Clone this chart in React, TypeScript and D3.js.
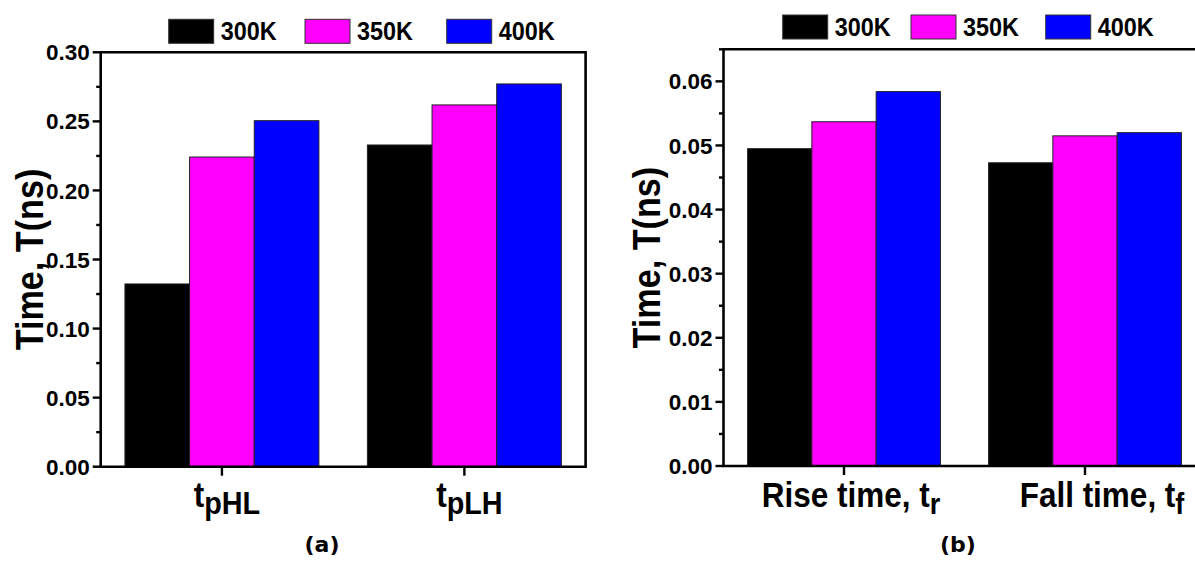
import React from "react";
import * as d3 from "d3";

// ---------- data ----------
const seriesNames = ["300K", "350K", "400K"];
const seriesColors = ["#000000", "#FF00FF", "#0000FF"];

const categoriesA = ["tpHL", "tpLH"];
const valuesA300 = [0.1323, 0.2329];
const valuesA350 = [0.2242, 0.2619];
const valuesA400 = [0.2505, 0.2771];
const yTicksA = [0, 0.05, 0.1, 0.15, 0.2, 0.25, 0.3];
const yMinorA = [0.025, 0.075, 0.125, 0.175, 0.225, 0.275];

const categoriesB = ["Rise", "Fall"];
const valuesB300 = [0.0495, 0.0473];
const valuesB350 = [0.0537, 0.0515];
const valuesB400 = [0.0584, 0.052];
const yTicksB = [0, 0.01, 0.02, 0.03, 0.04, 0.05, 0.06];
const yMinorB = [0.005, 0.015, 0.025, 0.035, 0.045, 0.055, 0.065];

const FONT = "'Liberation Sans', Arial, sans-serif";

type PanelProps = {
  left: number;
  right: number;
  top: number;
  bottom: number;
  yMax: number;
  categories: string[];
  values: number[][];
  yTicks: number[];
  yMinor: number[];
  legendX: number[];
  legendY: number;
  labels: React.ReactNode[];
  labelShift: number[];
  titleX: number;
  caption: string;
  captionX: number;
};

function NText(props: {
  x: number;
  y: number;
  anchor?: string;
  size: number;
  rotate?: boolean;
  children: React.ReactNode;
}) {
  const { x, y, anchor = "middle", size, rotate, children } = props;
  return (
    <g transform={`translate(${x},${y})${rotate ? " rotate(-90)" : ""} scale(0.9,1)`}>
      <text
        textAnchor={anchor}
        fontFamily={FONT}
        fontWeight="bold"
        fontSize={size}
        fill="#000"
      >
        {children}
      </text>
    </g>
  );
}

function Panel(p: PanelProps) {
  const x0 = d3
    .scaleBand<string>()
    .domain(p.categories)
    .range([p.left, p.right])
    .paddingInner(0.2)
    .paddingOuter(0.1);
  const x1 = d3
    .scaleBand<string>()
    .domain(seriesNames)
    .range([0, x0.bandwidth()])
    .padding(0);
  const y = d3.scaleLinear().domain([0, p.yMax]).range([p.bottom, p.top]);
  const center = (c: string) => (x0(c) as number) + x0.bandwidth() / 2;
  const axisW = 2.6;

  return (
    <g>
      {/* bars */}
      {p.categories.map((c, ci) =>
        seriesNames.map((s, si) => {
          const v = p.values[si][ci];
          return (
            <rect
              key={c + s}
              x={(x0(c) as number) + (x1(s) as number)}
              y={y(v)}
              width={x1.bandwidth()}
              height={y(0) - y(v)}
              fill={seriesColors[si]}
              stroke="#222"
              strokeWidth={1}
            />
          );
        })
      )}
      {/* frame */}
      <path
        d={`M${p.left},${p.bottom} L${p.left},${p.top} L${p.right},${p.top} L${p.right},${p.bottom} Z`}
        fill="none"
        stroke="#000"
        strokeWidth={axisW}
      />
      {/* y ticks */}
      {p.yTicks.map((t) => (
        <g key={"t" + t}>
          <line x1={p.left - 8} x2={p.left} y1={y(t)} y2={y(t)} stroke="#000" strokeWidth={2.4} />
          <text
            x={p.left - 11}
            y={y(t)}
            dy="0.36em"
            textAnchor="end"
            fontFamily={FONT}
            fontWeight="bold"
            fontSize={22.5}
          >
            {d3.format(".2f")(t)}
          </text>
        </g>
      ))}
      {p.yMinor.map((t) => (
        <line key={"m" + t} x1={p.left - 4.5} x2={p.left} y1={y(t)} y2={y(t)} stroke="#000" strokeWidth={2.4} />
      ))}
      {/* x ticks */}
      {p.categories.map((c) => (
        <line key={"xt" + c} x1={center(c)} x2={center(c)} y1={p.bottom} y2={p.bottom + 9} stroke="#000" strokeWidth={2.4} />
      ))}
      {/* x labels */}
      {p.categories.map((c, i) => (
        <NText key={"xl" + c} x={center(c) + p.labelShift[i]} y={507} size={35}>
          {p.labels[i]}
        </NText>
      ))}
      {/* y title */}
      <NText x={p.titleX} y={(p.top + p.bottom) / 2} size={38} rotate>
        Time, T(ns)
      </NText>
      {/* legend */}
      {seriesNames.map((s, i) => (
        <g key={"lg" + s}>
          <rect
            x={p.legendX[i]}
            y={p.legendY}
            width={45}
            height={24}
            fill={seriesColors[i]}
            stroke="#333"
            strokeWidth={1}
          />
          <NText x={p.legendX[i] + 52} y={p.legendY + 20.5} size={26} anchor="start">
            {s}
          </NText>
        </g>
      ))}
      {/* caption */}
      <text
        x={p.captionX}
        y={552}
        textAnchor="middle"
        fontFamily="'DejaVu Sans', Verdana, sans-serif"
        fontWeight="bold"
        fontSize={22}
      >
        {p.caption}
      </text>
    </g>
  );
}

export default function App() {
  const sub = (main: string, s: string, pre: string, subSize: number) => [
    <tspan key="a">{pre}{main}</tspan>,
    <tspan key="b" fontSize={subSize} dy={7}>
      {s}
    </tspan>,
  ];
  return (
    <svg
      width={1195}
      height={562}
      style={{ position: "absolute", left: 0, top: 0, background: "#fff" }}
    >
      <rect x={0} y={0} width={1195} height={562} fill="#fff" />
      <Panel
        left={100.7}
        right={585.6}
        top={52.3}
        bottom={466.7}
        yMax={0.3}
        categories={categoriesA}
        values={[valuesA300, valuesA350, valuesA400]}
        yTicks={yTicksA}
        yMinor={yMinorA}
        legendX={[168.7, 305, 446.7]}
        legendY={19.3}
        labels={[sub("t", "pHL", "", 32), sub("t", "pLH", "", 32)]}
        labelShift={[5, 5]}
        titleX={43}
        caption="(a)"
        captionX={322}
      />
      <Panel
        left={723.5}
        right={1205.5}
        top={49.3}
        bottom={466}
        yMax={0.065}
        categories={categoriesB}
        values={[valuesB300, valuesB350, valuesB400]}
        yTicks={yTicksB}
        yMinor={yMinorB}
        legendX={[782.7, 911, 1045.7]}
        legendY={15}
        labels={[sub("t", "r", "Rise time, ", 30), sub("t", "f", "Fall time, ", 30)]}
        labelShift={[7, 17]}
        titleX={660}
        caption="(b)"
        captionX={958}
      />
    </svg>
  );
}
